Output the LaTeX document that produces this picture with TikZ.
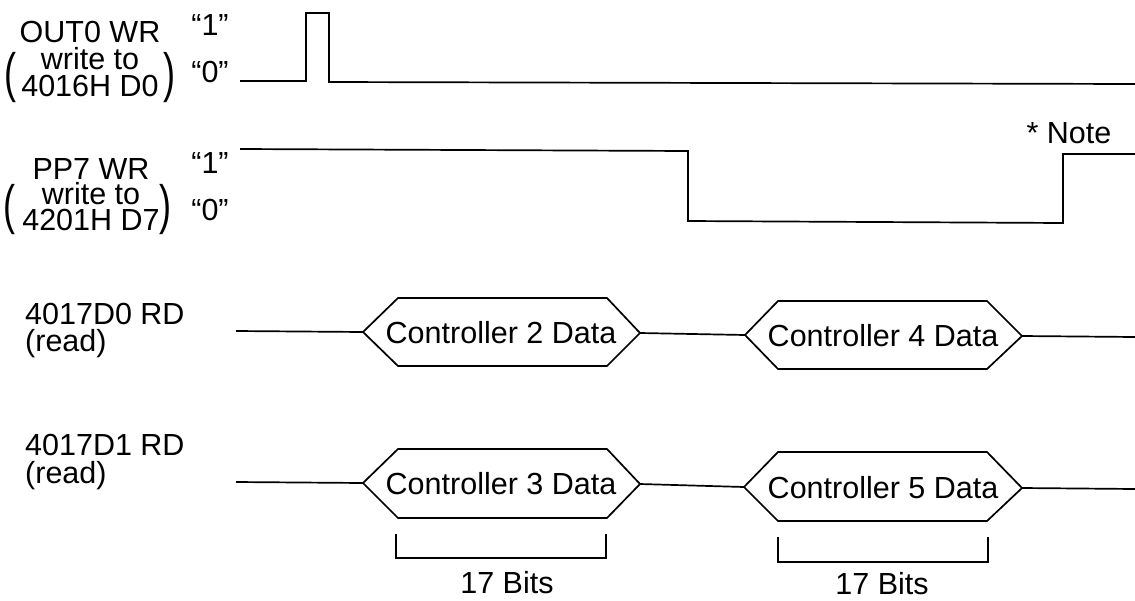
\documentclass[tikz,border=0pt]{standalone}
\usepackage{fontspec}
\setmainfont{Liberation Sans}
\begin{document}
\begin{tikzpicture}[x=1pt,y=-1pt,
  sig/.style={line width=1.7pt, line join=miter},
  txt/.style={font=\fontsize{30.5}{30.5}\selectfont, inner sep=0pt, anchor=base},
  ltxt/.style={txt, anchor=base west},
  stack/.style={font=\fontsize{30.5}{#1}\selectfont, inner sep=0pt, align=center, anchor=center},
  paren/.style={font=\fontsize{40}{40}\selectfont, inner sep=0pt}]
\useasboundingbox (0,0) rectangle (1135,600);

% ---------- left labels ----------
\node[stack=27] (l1) at (90,59) {OUT0 WR\\write to\\4016H D0};
\node[paren] (p1l) at (10,78) {\scalebox{0.9}[1.35]{(}};
\node[paren] (p1r) at (169,78) {\scalebox{0.9}[1.35]{)}};
\node[txt] (q1h) at (210,35) {“1”};
\node[txt] (q1l) at (210,82) {“0”};

\node[stack=25.5] (l2) at (91,194.5) {PP7 WR\\write to\\4201H D7};
\node[paren] (p2l) at (9,210) {\scalebox{0.9}[1.35]{(}};
\node[paren] (p2r) at (165,210) {\scalebox{0.9}[1.35]{)}};
\node[txt] (q2h) at (210,173) {“1”};
\node[txt] (q2l) at (210,220) {“0”};

\node[ltxt] (l3a) at (25,324) {4017D0 RD};
\node[ltxt] (l3b) at (25,351) {(read)};
\node[ltxt] (l4a) at (25,455) {4017D1 RD};
\node[ltxt] (l4b) at (25,483) {(read)};

\node[txt] (note) at (1069,143) {* Note};

% ---------- OUT0 WR ----------
\coordinate (a0) at (240,81);
\coordinate (a1) at (306,81);
\coordinate (a2) at (306,13);
\coordinate (a3) at (329,13);
\coordinate (a4) at (329,82);
\coordinate (a5) at (1135,84);
\draw[sig] (a0) -- (a1) -- (a2) -- (a3) -- (a4) -- (a5);

% ---------- PP7 WR ----------
\coordinate (b0) at (240,149);
\coordinate (b1) at (688,151);
\coordinate (b2) at (688,221);
\coordinate (b3) at (1063,223);
\coordinate (b4) at (1063,154);
\coordinate (b5) at (1135,154);
\draw[sig] (b0) -- (b1) -- (b2) -- (b3) -- (b4) -- (b5);

% ---------- 4017D0 RD ----------
\coordinate (c0) at (236,331);
\coordinate (h2l) at (363,332);
\coordinate (h2r) at (640,333);
\coordinate (h4l) at (745,335);
\coordinate (h4r) at (1022,336);
\coordinate (c5) at (1135,337);
\draw[sig] (h2l) -- (398,298) -- (607,298) -- (h2r) -- (607,366) -- (398,366) -- cycle;
\draw[sig] (h4l) -- (778,301) -- (987,301) -- (h4r) -- (987,369) -- (778,369) -- cycle;
\node[txt, anchor=center] (d2) at (501,333) {Controller 2 Data};
\node[txt, anchor=center] (d4) at (883,336) {Controller 4 Data};
\draw[sig] (c0) -- (h2l);
\draw[sig] (h2r) -- (h4l);
\draw[sig] (h4r) -- (c5);

% ---------- 4017D1 RD ----------
\coordinate (e0) at (236,482);
\coordinate (h3l) at (363,483);
\coordinate (h3r) at (640,484);
\coordinate (h5l) at (744,487);
\coordinate (h5r) at (1022,488);
\coordinate (e5) at (1135,489);
\draw[sig] (h3l) -- (398,449) -- (607,449) -- (h3r) -- (607,518) -- (398,518) -- cycle;
\draw[sig] (h5l) -- (778,452) -- (987,452) -- (h5r) -- (987,521) -- (778,521) -- cycle;
\node[txt, anchor=center] (d3) at (501,484) {Controller 3 Data};
\node[txt, anchor=center] (d5) at (883,488) {Controller 5 Data};
\draw[sig] (e0) -- (h3l);
\draw[sig] (h3r) -- (h5l);
\draw[sig] (h5r) -- (e5);

% ---------- brackets ----------
\draw[sig] (396,534) -- (396,558) -- (606,558) -- (606,534);
\draw[sig] (778,537) -- (778,562) -- (988,562) -- (988,537);
\node[txt] (bits1) at (507,593) {17 Bits};
\node[txt] (bits2) at (882,594) {17 Bits};
\end{tikzpicture}
\end{document}
